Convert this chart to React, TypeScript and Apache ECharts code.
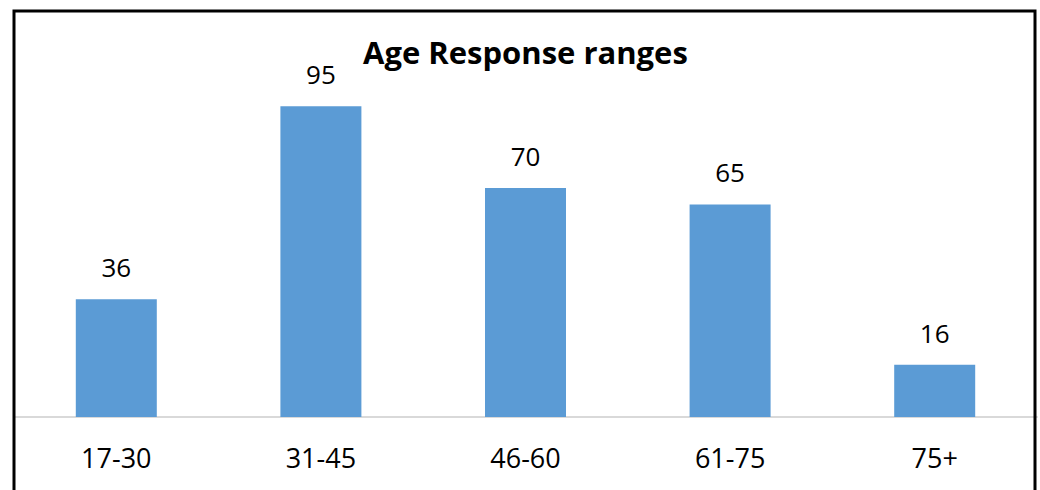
import React, { useEffect, useRef } from "react";
import * as echarts from "echarts";

const categories = ["17-30", "31-45", "46-60", "61-75", "75+"];
const responses = [36, 95, 70, 65, 16];
const titleText = "Age Response ranges";

export default function App() {
  const ref = useRef<HTMLDivElement>(null);

  useEffect(() => {
    if (!ref.current) return;
    const chart = echarts.init(ref.current, undefined, { renderer: "svg" });
    const font = "'Open Sans', 'DejaVu Sans', sans-serif";
    chart.setOption({
      animation: false,
      backgroundColor: "#ffffff",
      title: {
        text: titleText,
        left: 358,
        top: 31,
        textStyle: {
          fontFamily: font,
          fontSize: 31,
          fontWeight: "bold",
          color: "#000000",
        },
      },
      grid: { left: 14, right: 3, top: 90, bottom: 73, containLabel: false },
      xAxis: {
        type: "category",
        data: categories,
        axisLine: { show: true, lineStyle: { color: "#d9d9d9", width: 2 } },
        axisTick: { show: false },
        axisLabel: {
          margin: 27,
          fontFamily: font,
          fontSize: 27,
          color: "#000000",
        },
      },
      yAxis: {
        type: "value",
        min: 0,
        max: 100,
        show: false,
        splitLine: { show: false },
      },
      series: [
        {
          type: "bar",
          data: responses,
          barWidth: 81,
          itemStyle: { color: "#5b9bd5" },
          label: {
            show: true,
            position: "top",
            distance: 19,
            fontFamily: font,
            fontSize: 26,
            color: "#000000",
          },
        },
      ],
      graphic: [
        {
          type: "rect",
          shape: { x: 14, y: 11, width: 1021, height: 520 },
          style: { fill: "none", stroke: "#000000", lineWidth: 3 },
          z: 100,
        },
      ],
    });
    return () => chart.dispose();
  }, []);

  return (
    <div
      ref={ref}
      style={{ position: "fixed", left: 0, top: 0, width: 1040, height: 490 }}
    />
  );
}
